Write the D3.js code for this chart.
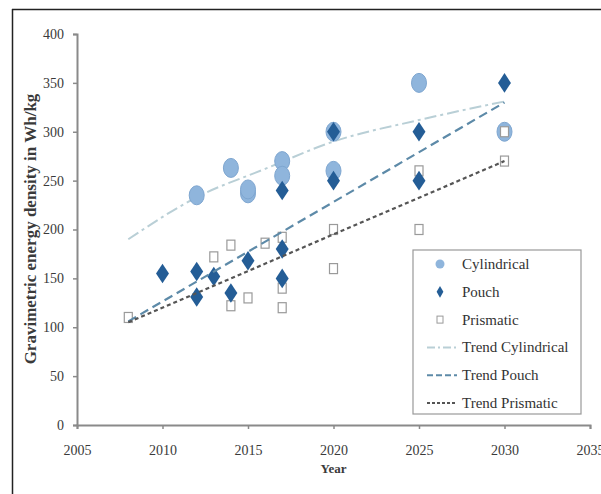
<!DOCTYPE html>
<html>
<head>
<meta charset="utf-8">
<script src="https://cdn.jsdelivr.net/npm/d3@7"></script>
<style>
  body { margin: 0; background: #fff; }
  text { font-family: "Liberation Serif", "Times New Roman", serif; }
</style>
</head>
<body>
<div id="chart"></div>
<script>
var width = 601;
var height = 494;

var cylYears = [2012, 2014, 2015, 2015, 2017, 2017, 2020, 2020, 2025, 2030];
var cylValues = [235, 263, 237, 241, 270, 255, 300, 260, 350, 300];

var pouchYears = [2010, 2012, 2012, 2013, 2014, 2015, 2017, 2017, 2017, 2020, 2020, 2025, 2025, 2030];
var pouchValues = [155, 157, 131, 152, 135, 168, 240, 180, 150, 300, 250, 300, 250, 350];

var prisYears = [2008, 2013, 2014, 2014, 2015, 2016, 2017, 2017, 2017, 2020, 2020, 2025, 2025, 2030, 2030];
var prisValues = [110, 172, 184, 122, 130, 186, 192, 140, 120, 200, 160, 260, 200, 300, 270];

var trendYears = [2008, 2012, 2016, 2020, 2025, 2030];
var trendCyl = [190, 233, 262, 290, 312, 331];
var trendPouchYears = [2008, 2030];
var trendPouch = [106, 330];
var trendPrisYears = [2008, 2030];
var trendPris = [105, 270];

var xTicks = [2005, 2010, 2015, 2020, 2025, 2030, 2035];
var yTicks = [0, 50, 100, 150, 200, 250, 300, 350, 400];

var legendLabels = ["Cylindrical", "Pouch", "Prismatic", "Trend Cylindrical", "Trend Pouch", "Trend Prismatic"];

var cylColor = "#8fb5dc";
var pouchColor = "#245d96";
var prisColor = "#9a9a9a";

var svg = d3.select("#chart").append("svg")
	.attr("width", width)
	.attr("height", height);

// outer frame (top and left edges visible)
svg.append("line").attr("x1", 12).attr("y1", 9.5).attr("x2", width).attr("y2", 9.5)
	.attr("stroke", "#222").attr("stroke-width", 1.5);
svg.append("line").attr("x1", 12.5).attr("y1", 9).attr("x2", 12.5).attr("y2", height)
	.attr("stroke", "#222").attr("stroke-width", 1.5);

var x = d3.scaleLinear().domain([2005, 2035]).range([77, 590]);
var y = d3.scaleLinear().domain([0, 400]).range([425, 34]);

var xAxis = svg.append("g")
	.attr("transform", "translate(0," + y(0) + ")")
	.call(d3.axisBottom(x).tickValues(xTicks).tickFormat(d3.format("d")).tickSize(4).tickPadding(16));

var yAxis = svg.append("g")
	.attr("transform", "translate(" + x(2005) + ",0)")
	.call(d3.axisLeft(y).tickValues(yTicks).tickSize(4).tickPadding(9));

[xAxis, yAxis].forEach(function(ax) {
	ax.select(".domain").attr("stroke", "#8a8a8a").attr("stroke-width", 2);
	ax.selectAll(".tick line").attr("stroke", "#8a8a8a").attr("stroke-width", 1.5);
	ax.selectAll(".tick text")
		.attr("fill", "#3a3a3a")
		.style("font-family", "'Liberation Serif', serif")
		.style("font-size", "14px");
});

svg.append("text")
	.attr("x", x(2020))
	.attr("y", 473)
	.attr("text-anchor", "middle")
	.attr("font-weight", "bold")
	.attr("font-size", 13)
	.attr("fill", "#3a3a3a")
	.text("Year");

svg.append("text")
	.attr("transform", "translate(36,229) rotate(-90)")
	.attr("text-anchor", "middle")
	.attr("font-weight", "bold")
	.attr("font-size", 17)
	.attr("fill", "#3a3a3a")
	.text("Gravimetric energy density in Wh/kg");

// trend lines
var line = d3.line()
	.x(function(d) { return x(d[0]); })
	.y(function(d) { return y(d[1]); })
	.curve(d3.curveMonotoneX);

svg.append("path")
	.datum(d3.zip(trendYears, trendCyl))
	.attr("d", line)
	.attr("fill", "none")
	.attr("stroke", "#b9cfd6")
	.attr("stroke-width", 2)
	.attr("stroke-dasharray", "12,4,3,4");

// markers
var prisData = d3.zip(prisYears, prisValues);
var cylData = d3.zip(cylYears, cylValues);
var pouchData = d3.zip(pouchYears, pouchValues);

svg.append("g").selectAll("ellipse")
	.data(cylData)
	.enter()
	.append("ellipse")
	.attr("cx", function(d) { return x(d[0]); })
	.attr("cy", function(d) { return y(d[1]); })
	.attr("rx", 7.5)
	.attr("ry", 9.5)
	.attr("fill", cylColor)
	.attr("stroke", "#7ea6d0")
	.attr("stroke-width", 1);

svg.append("g").selectAll("rect")
	.data(prisData)
	.enter()
	.append("rect")
	.attr("x", function(d) { return x(d[0]) - 4; })
	.attr("y", function(d) { return y(d[1]) - 5; })
	.attr("width", 8)
	.attr("height", 10)
	.attr("fill", "#fff")
	.attr("stroke", prisColor)
	.attr("stroke-width", 1.2);

var diamond = d3.symbol().type(d3.symbolDiamond).size(110);

svg.append("g").selectAll("path")
	.data(pouchData)
	.enter()
	.append("path")
	.attr("d", diamond)
	.attr("transform", function(d) { return "translate(" + x(d[0]) + "," + y(d[1]) + ") scale(1.15,1)"; })
	.attr("fill", pouchColor);

svg.append("path")
	.datum(d3.zip(trendPouchYears, trendPouch))
	.attr("d", line)
	.attr("fill", "none")
	.attr("stroke", "#5d8aa8")
	.attr("stroke-width", 2.2)
	.attr("stroke-dasharray", "9,5");

svg.append("path")
	.datum(d3.zip(trendPrisYears, trendPris))
	.attr("d", line)
	.attr("fill", "none")
	.attr("stroke", "#555")
	.attr("stroke-width", 2.2)
	.attr("stroke-dasharray", "4,3");

// legend
var lg = svg.append("g").attr("transform", "translate(413,250)");
lg.append("rect")
	.attr("x", 0).attr("y", 0)
	.attr("width", 168).attr("height", 164)
	.attr("fill", "#fff")
	.attr("stroke", "#999")
	.attr("stroke-width", 1.2);

var rowY = function(i) { return 14 + i * 27.8; };

lg.selectAll("text.leg")
	.data(legendLabels)
	.enter()
	.append("text")
	.attr("class", "leg")
	.attr("x", 49)
	.attr("y", function(d, i) { return rowY(i) + 5; })
	.attr("font-size", 15)
	.attr("fill", "#333")
	.text(function(d) { return d; });

lg.append("circle").attr("cx", 27).attr("cy", rowY(0)).attr("r", 4.5).attr("fill", cylColor);
lg.append("path").attr("d", d3.symbol().type(d3.symbolDiamond).size(40))
	.attr("transform", "translate(27," + rowY(1) + ")").attr("fill", pouchColor);
lg.append("rect").attr("x", 24).attr("y", rowY(2) - 3.5).attr("width", 6).attr("height", 7)
	.attr("fill", "#fff").attr("stroke", prisColor);

var legLines = [
	{stroke: "#b9cfd6", dash: "8,3,2,3"},
	{stroke: "#5d8aa8", dash: "6,3"},
	{stroke: "#555", dash: "3,2"}
];
lg.selectAll("line.leg")
	.data(legLines)
	.enter()
	.append("line")
	.attr("x1", 14).attr("x2", 44)
	.attr("y1", function(d, i) { return rowY(i + 3); })
	.attr("y2", function(d, i) { return rowY(i + 3); })
	.attr("stroke", function(d) { return d.stroke; })
	.attr("stroke-width", 2)
	.attr("stroke-dasharray", function(d) { return d.dash; });
</script>
</body>
</html>
